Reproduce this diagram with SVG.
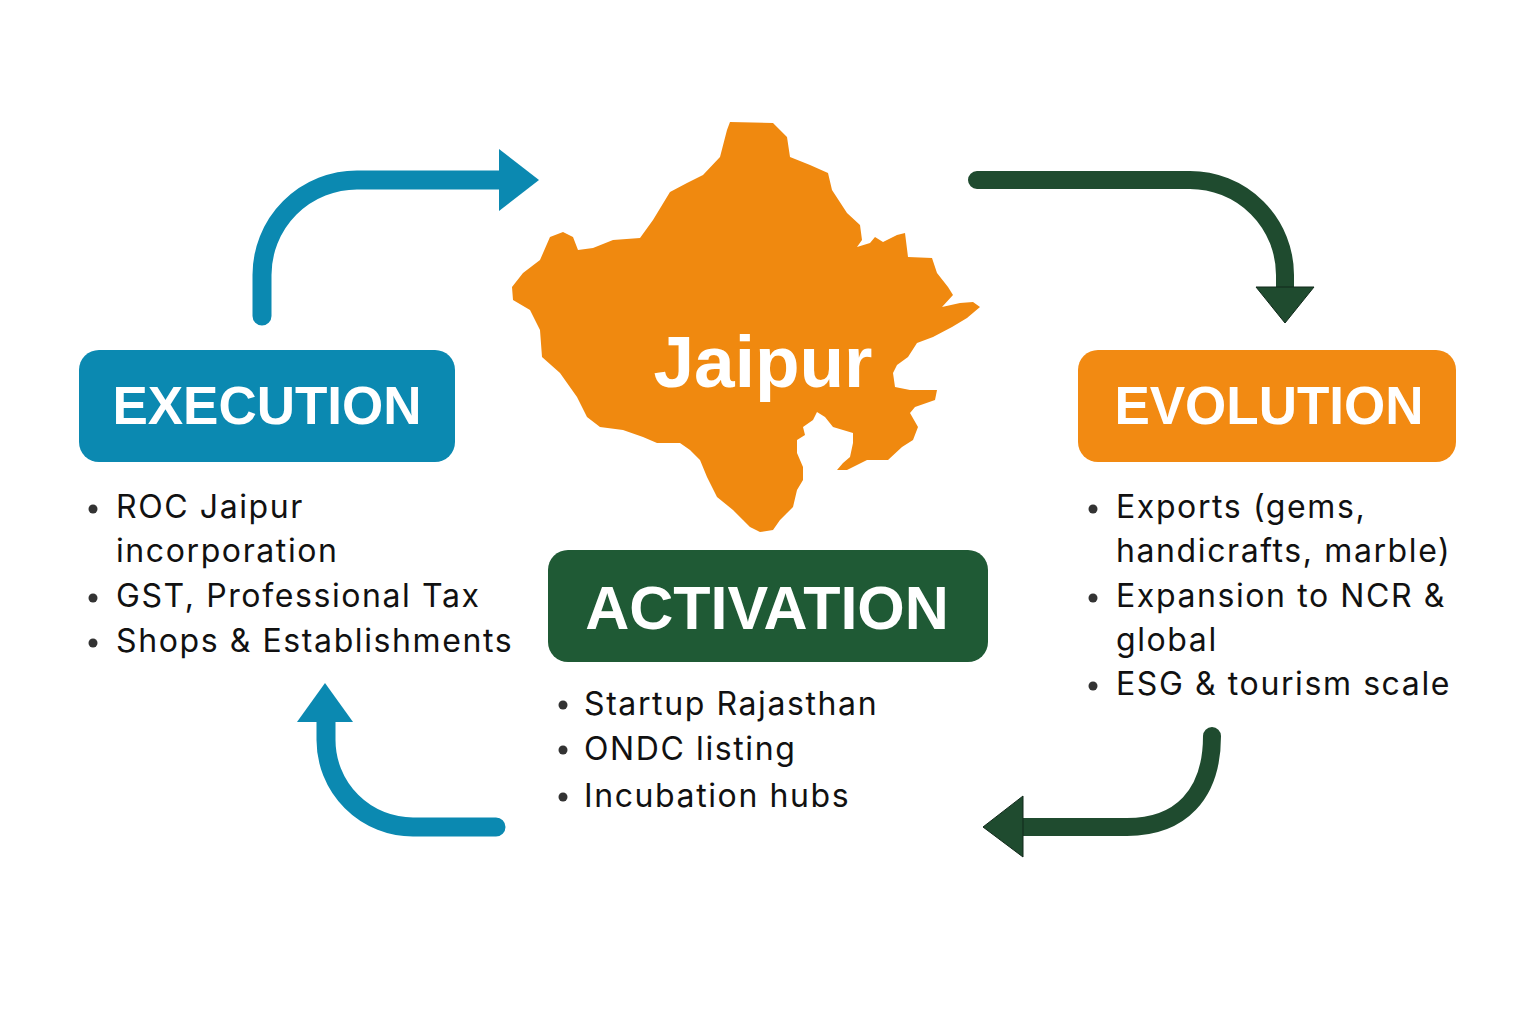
<svg xmlns="http://www.w3.org/2000/svg" width="1536" height="1024" viewBox="0 0 1536 1024">
<style>
.title{font-family:"Liberation Sans",Arial,sans-serif;font-weight:bold;fill:#ffffff;text-anchor:middle}
.item{font-family:Inter,"Noto Sans",sans-serif;font-size:32px;letter-spacing:1.6px;fill:#111111}
.dot{fill:#333333}
.blue{fill:none;stroke:#0b89b1;stroke-width:19;stroke-linecap:round}
.green{fill:none;stroke:#1f4b2f;stroke-width:18;stroke-linecap:round}
.headb{fill:#0b89b1}
.headg{fill:#1f4b2f;stroke:#10291a;stroke-width:1}
</style>
<rect width="1536" height="1024" fill="#ffffff"/>

<g id="map">
<path fill="#f0890f" d="M730,122 L773,123 L787,137 L790,157 L810,165 L828,173 L832,190 L847,213 L860,225 L862,240 L857,247 L870,243 L875,237 L883,242 L897,235 L905,233 L908,257 L932,258 L937,273 L948,287 L953,295 L942,307 L960,303 L973,302 L980,307 L967,318 L952,327 L933,337 L917,343 L908,357 L897,365 L893,373 L895,387 L910,390 L937,390 L935,400 L915,407 L910,413 L918,427 L913,440 L902,447 L888,460 L867,460 L847,470 L837,470 L843,463 L850,457 L853,443 L853,433 L833,427 L825,417 L817,412 L813,420 L803,427 L805,435 L797,440 L797,453 L803,467 L803,480 L797,490 L793,507 L787,513 L780,520 L773,530 L760,532 L750,527 L743,520 L733,510 L717,497 L707,477 L700,460 L690,450 L680,443 L657,443 L643,437 L623,430 L600,427 L587,417 L577,397 L560,373 L542,357 L540,330 L530,310 L513,300 L512,287 L523,273 L540,260 L550,237 L563,232 L573,237 L578,250 L593,248 L613,240 L640,238 L653,220 L670,192 L687,183 L703,175 L720,157 L727,130 Z"/>
<text class="title" x="763" y="387" font-size="73">Jaipur</text>
</g>

<g id="connectors">
<path class="blue" d="M262,316 L262,275 A95,95 0 0 1 357,180 L502,180"/>
<polygon class="headb" points="499,149 539,180 499,211"/>
<path class="green" d="M977,180 L1190,180 A95,95 0 0 1 1285,275 L1285,290"/>
<polygon class="headg" points="1256,287 1314,287 1285,323"/>
<path class="green" d="M1212,736 C1212,795 1180,827 1127,827 L1020,827"/>
<polygon class="headg" points="1023,796 983,827 1023,857"/>
<path class="blue" d="M496,827 L413,827 A87,87 0 0 1 326,740 L326,718"/>
<polygon class="headb" points="297,722 325,683 353,722"/>
</g>

<g id="execution">
<rect x="79" y="350" width="376" height="112" rx="20" fill="#0b89b1"/>
<text class="title" x="267" y="424" font-size="53">EXECUTION</text>
<circle class="dot" cx="93" cy="509" r="4.5"/>
<text class="item" x="116" y="518">ROC Jaipur</text>
<text class="item" x="116" y="562">incorporation</text>
<circle class="dot" cx="93" cy="598" r="4.5"/>
<text class="item" x="116" y="607">GST, Professional Tax</text>
<circle class="dot" cx="93" cy="643" r="4.5"/>
<text class="item" x="116" y="652">Shops &amp; Establishments</text>
</g>

<g id="evolution">
<rect x="1078" y="350" width="378" height="112" rx="20" fill="#f28a12"/>
<text class="title" x="1269" y="424" font-size="53">EVOLUTION</text>
<circle class="dot" cx="1093" cy="509" r="4.5"/>
<text class="item" x="1116" y="518">Exports (gems,</text>
<text class="item" x="1116" y="562">handicrafts, marble)</text>
<circle class="dot" cx="1093" cy="598" r="4.5"/>
<text class="item" x="1116" y="607">Expansion to NCR &amp;</text>
<text class="item" x="1116" y="651">global</text>
<circle class="dot" cx="1093" cy="686" r="4.5"/>
<text class="item" x="1116" y="695">ESG &amp; tourism scale</text>
</g>

<g id="activation">
<rect x="548" y="550" width="440" height="112" rx="20" fill="#1f5a35"/>
<text class="title" x="767" y="629" font-size="61" fill="#f4fbef">ACTIVATION</text>
<circle class="dot" cx="563" cy="705" r="4.5"/>
<text class="item" x="584" y="715">Startup Rajasthan</text>
<circle class="dot" cx="563" cy="750" r="4.5"/>
<text class="item" x="584" y="760">ONDC listing</text>
<circle class="dot" cx="563" cy="797" r="4.5"/>
<text class="item" x="584" y="807">Incubation hubs</text>
</g>
</svg>
